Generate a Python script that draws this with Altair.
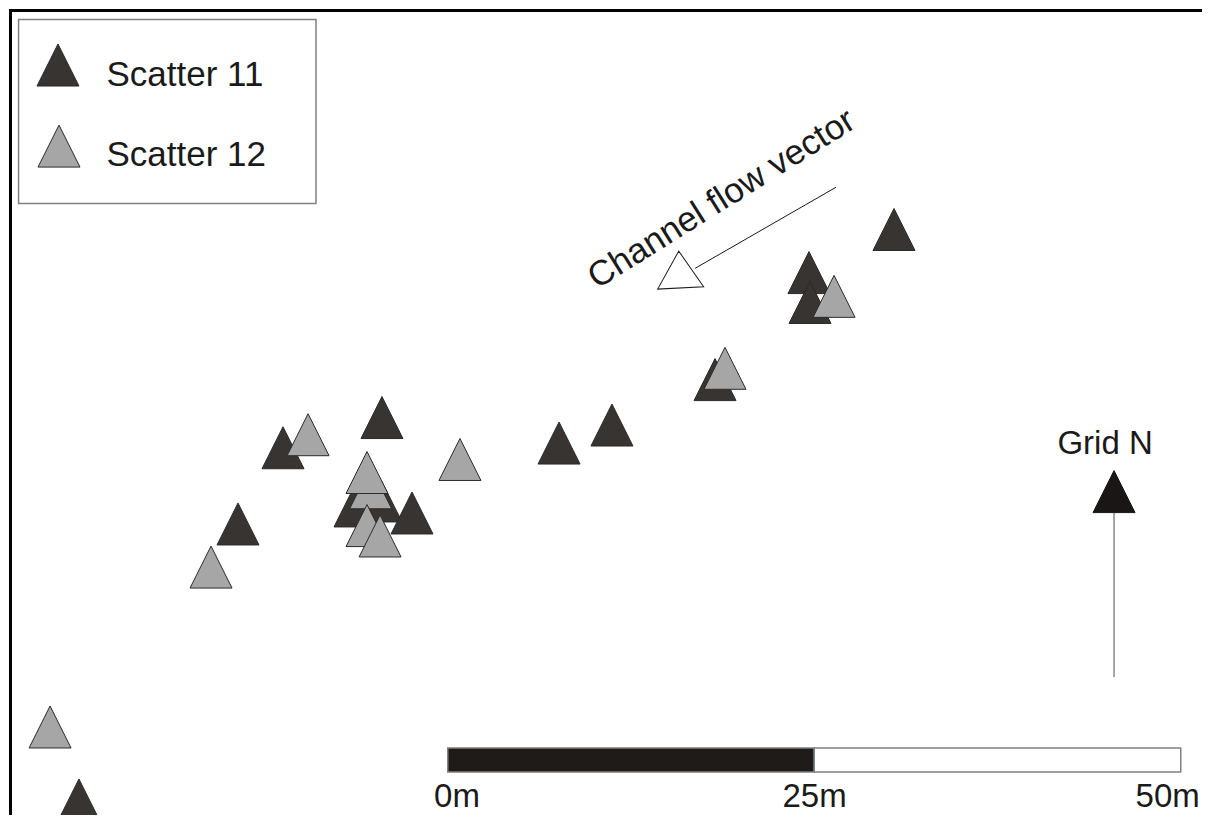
import altair as alt
import pandas as pd

# ---- data (local grid, metres) ----
s11_e = [30.44, 24.64, 24.71, 18.23, 11.20, 7.59, -4.49, -11.24, -14.31, -4.55, -6.33, -2.44, -25.16]
s11_n = [40.49, 37.55, 35.51, 30.25, 27.15, 25.92, 27.66, 25.60, 20.40, 21.97, 21.63, 21.15, 1.57]
s12_e = [26.35, 18.91, 0.83, -9.53, -16.15, -5.26, -5.51, -5.51, -4.62, -27.13]
s12_n = [35.93, 31.02, 24.80, 26.49, 17.46, 22.87, 23.91, 20.29, 19.58, 6.55]
series = ["Scatter 11", "Scatter 12"]
series_colors = ["#383431", "#a6a6a6"]

legend_e = [-26.59, -26.52]
legend_n = [51.71, 46.18]
legend_text_e = [-23.28, -23.28]
legend_text_n = [50.28, 44.84]

scale_start = [0, 25]
scale_end = [25, 50]
scale_fill = ["#1f1b19", "#ffffff"]
scale_labels = ["0m", "25m"]
scale_label_e = [0.63, 25.02]
scale_end_label = ["50m"]
scale_end_label_e = [51.3]

flow_label = "Channel flow vector"
grid_label = "Grid N"

# ---- scales (14.66 px per metre on both axes) ----
sx = alt.Scale(domain=[-30, 51.45], nice=False, zero=False)
sy = alt.Scale(domain=[0.546, 55.6], nice=False, zero=False)


def X(f="x"):
    return alt.X(f"{f}:Q", scale=sx, axis=None)


def Y(f="y"):
    return alt.Y(f"{f}:Q", scale=sy, axis=None)


TRI = "M0,-1L1,1L-1,1Z"
TRI_FLAT = "M0,-0.8L1,0.8L-1,0.8Z"
FONT = "Liberation Sans"
TXT = "#1a1a1a"

# frame (left and top border)
frame = pd.DataFrame({"x": [-29.83, -29.93], "x2": [-29.83, 51.45],
                      "y": [0.546, 55.43], "y2": [55.53, 55.43]})
frame_layer = alt.Chart(frame).mark_rule(color="#000000", strokeWidth=3).encode(
    x=X(), x2="x2:Q", y=Y(), y2="y2:Q")

# legend box
lbox = pd.DataFrame({"x": [-29.28], "x2": [-8.99], "y": [42.26], "y2": [54.81]})
lbox_layer = alt.Chart(lbox).mark_rect(fill="#ffffff", stroke="#808080", strokeWidth=1.5).encode(
    x=X(), x2="x2:Q", y=Y(), y2="y2:Q")

fill_enc = alt.Fill("series:N", scale=alt.Scale(domain=series, range=series_colors), legend=None)

leg = pd.DataFrame({"x": legend_e, "y": legend_n, "series": series})
leg_sym = alt.Chart(leg).mark_point(shape=TRI, filled=True, size=1764, stroke="#2b2b2b",
                                    strokeWidth=1, opacity=1).encode(x=X(), y=Y(), fill=fill_enc)
legt = pd.DataFrame({"x": legend_text_e, "y": legend_text_n, "t": series})
leg_txt = alt.Chart(legt).mark_text(font=FONT, fontSize=35, align="left", baseline="alphabetic",
                                    color=TXT).encode(x=X(), y=Y(), text="t:N")

# data points
pts = pd.DataFrame({
    "x": s11_e + s12_e,
    "y": s11_n + s12_n,
    "series": [series[0]] * len(s11_e) + [series[1]] * len(s12_e),
})
pts_layer = alt.Chart(pts).mark_point(shape=TRI, filled=True, size=1764, stroke="#2b2b2b",
                                      strokeWidth=1, opacity=1).encode(x=X(), y=Y(), fill=fill_enc)

# channel flow vector
flow_line = pd.DataFrame({"x": [16.87], "y": [37.84], "x2": [26.48], "y2": [43.37]})
flow_line_layer = alt.Chart(flow_line).mark_rule(color="#1a1a1a", strokeWidth=1).encode(
    x=X(), y=Y(), x2="x2:Q", y2="y2:Q")
flow_tri = pd.DataFrame({"x": [15.82], "y": [37.76]})
flow_tri_layer = alt.Chart(flow_tri).mark_point(shape=TRI_FLAT, filled=True, fill="#ffffff", size=2116,
                                                stroke="#1a1a1a", strokeWidth=1, opacity=1,
                                                angle=357).encode(x=X(), y=Y())
flow_txt = pd.DataFrame({"x": [10.18], "y": [36.4], "t": [flow_label]})
flow_txt_layer = alt.Chart(flow_txt).mark_text(font=FONT, fontSize=35, align="left", baseline="alphabetic",
                                               angle=328, color=TXT).encode(x=X(), y=Y(), text="t:N")

# north arrow
north_line = pd.DataFrame({"x": [45.45], "y": [9.96], "y2": [21.15]})
north_line_layer = alt.Chart(north_line).mark_rule(color="#8a8a8a", strokeWidth=1.5).encode(
    x=X(), y=Y(), y2="y2:Q")
north_tri = pd.DataFrame({"x": [45.45], "y": [22.61]})
north_tri_layer = alt.Chart(north_tri).mark_point(shape=TRI, filled=True, fill="#1a1616", size=1764,
                                                  stroke="#1a1616", strokeWidth=1, opacity=1).encode(x=X(), y=Y())
north_txt = pd.DataFrame({"x": [44.84], "y": [25.17], "t": [grid_label]})
north_txt_layer = alt.Chart(north_txt).mark_text(font=FONT, fontSize=33, align="center", baseline="alphabetic",
                                                 color=TXT).encode(x=X(), y=Y(), text="t:N")

# scale bar
bar = pd.DataFrame({"x": scale_start, "x2": scale_end, "y": [3.48, 3.48], "y2": [5.12, 5.12],
                    "f": scale_fill})
bar_layer = alt.Chart(bar).mark_rect(stroke="#808080", strokeWidth=1.5).encode(
    x=X(), x2="x2:Q", y=Y(), y2="y2:Q",
    fill=alt.Fill("f:N", scale=None, legend=None))
bar_txt = pd.DataFrame({"x": scale_label_e, "y": [1.08] * len(scale_labels), "t": scale_labels})
bar_txt_layer = alt.Chart(bar_txt).mark_text(font=FONT, fontSize=33,
                                             align="center", baseline="alphabetic", color=TXT).encode(
    x=X(), y=Y(), text="t:N")
bar_end_txt = pd.DataFrame({"x": scale_end_label_e, "y": [1.08], "t": scale_end_label})
bar_end_txt_layer = alt.Chart(bar_end_txt).mark_text(font=FONT, fontSize=33,
                                                     align="right", baseline="alphabetic", color=TXT).encode(
    x=X(), y=Y(), text="t:N")

chart = alt.layer(
    frame_layer, lbox_layer, leg_sym, leg_txt,
    flow_line_layer, flow_tri_layer, flow_txt_layer,
    pts_layer,
    north_line_layer, north_tri_layer, north_txt_layer,
    bar_layer, bar_txt_layer, bar_end_txt_layer,
).properties(
    width=1194, height=807, padding=0, autosize=alt.AutoSizeParams(type="none"),
    background="#ffffff",
).configure_view(stroke=None)

chart.save("out.html", embed_options={"renderer": "svg", "actions": False})
